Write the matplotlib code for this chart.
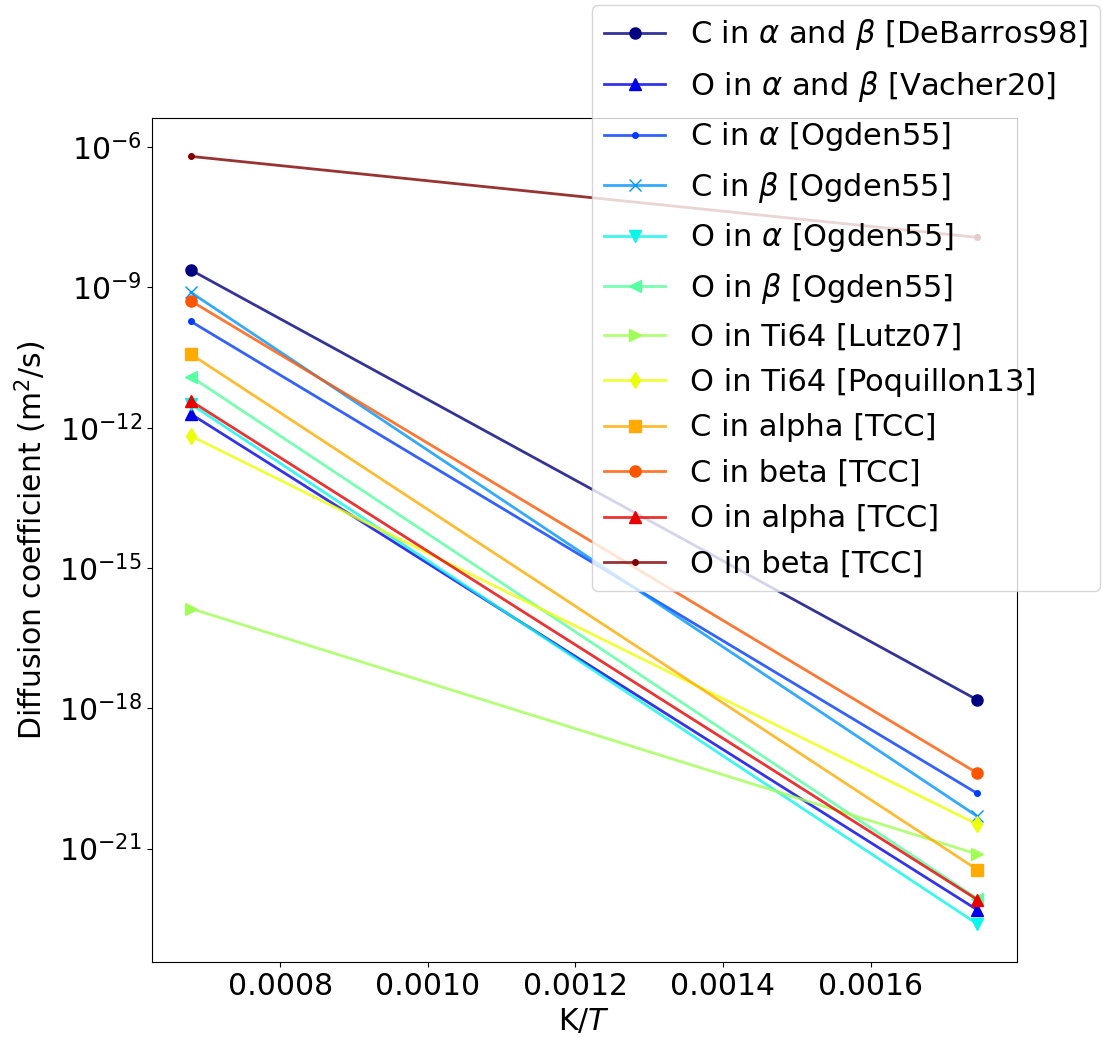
import numpy as np
import matplotlib
matplotlib.use("Agg")
import matplotlib.pyplot as plt
from matplotlib.ticker import NullLocator

# temperatures (K) at the two ends: 1200 C and 300 C
temps = [1473.15, 573.15]

labels = [
    r"C in $\alpha$ and $\beta$ [DeBarros98]",
    r"O in $\alpha$ and $\beta$ [Vacher20]",
    r"C in $\alpha$ [Ogden55]",
    r"C in $\beta$ [Ogden55]",
    r"O in $\alpha$ [Ogden55]",
    r"O in $\beta$ [Ogden55]",
    "O in Ti64 [Lutz07]",
    "O in Ti64 [Poquillon13]",
    "C in alpha [TCC]",
    "C in beta [TCC]",
    "O in alpha [TCC]",
    "O in beta [TCC]",
]
markers = ["o", "^", ".", "x", "v", "<", ">", "d", "s", "o", "^", "."]

# diffusion coefficients (m^2/s) at high T / low T
d_high = [2.34e-9, 1.95e-12, 1.86e-10, 7.76e-10, 3.16e-12, 1.23e-11,
          1.35e-16, 6.6e-13, 3.7e-11, 5.1e-10, 3.7e-12, 6.3e-7]
d_low = [1.51e-18, 4.9e-23, 1.51e-20, 4.9e-21, 2.45e-23, 8.5e-23,
         7.6e-22, 3.3e-21, 3.55e-22, 4.1e-20, 8.1e-23, 1.17e-8]

yticks = [1e-21, 1e-18, 1e-15, 1e-12, 1e-9, 1e-6]

fig = plt.figure(figsize=(11.03, 10.38), dpi=100)
ax = fig.add_axes([0.1375, 0.0729, 0.7842, 0.8134])

x = 1.0 / np.array(temps)
colors = plt.cm.jet(np.linspace(0, 1, len(labels)))
for lab, m, c, y0, y1 in zip(labels, markers, colors, d_high, d_low):
    ax.plot(x, [y0, y1], marker=m, color=(c[0], c[1], c[2], 0.8),
            markerfacecolor=c, markeredgecolor=c, markersize=8,
            linewidth=2, label=lab)

ax.set_yscale("log")
ax.set_yticks(yticks)
ax.yaxis.set_minor_locator(NullLocator())
ax.set_xlabel("K/$T$", fontsize=21.5)
ax.set_ylabel("Diffusion coefficient (m$^2$/s)", fontsize=21.5, labelpad=7)
ax.tick_params(labelsize=21.5)

fig.legend(loc="upper left", bbox_to_anchor=(592 / 1103, 1 - 5 / 1038),
           bbox_transform=fig.transFigure, fontsize=22, framealpha=0.8,
           borderaxespad=0, labelspacing=0.54)

fig.savefig("out.png", dpi=100)
